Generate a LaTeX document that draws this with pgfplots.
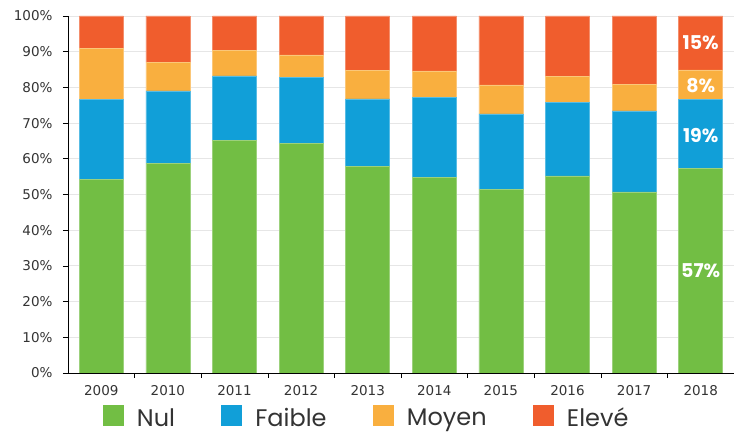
\documentclass[border=0pt]{standalone}
\usepackage{pgfplots}
\usepackage{pgfplotstable}
\pgfplotsset{compat=1.18}
\usepackage{fontspec}
\setmainfont{Poppins}
\newfontfamily\tickfont{DejaVu Sans}
\definecolor{cNul}{HTML}{72BE44}
\definecolor{cFaible}{HTML}{119FD8}
\definecolor{cMoyen}{HTML}{F9AF3F}
\definecolor{cEleve}{HTML}{F05D2D}
\definecolor{txt}{HTML}{333333}
\definecolor{grd}{HTML}{E6E6E6}
\pgfplotstableread{
x nul faible moyen eleve
0 54.3 22.4 14.3 9.0
1 58.7 20.3 8.1 12.9
2 65.1 18.1 7.1 9.7
3 64.3 18.4 6.4 10.9
4 57.9 18.9 8.0 15.2
5 54.8 22.4 7.4 15.4
6 51.5 21.1 8.1 19.3
7 55.2 20.5 7.4 16.9
8 50.7 22.7 7.5 19.1
9 57.3 19.4 8.2 15.1
}\datatable
\begin{document}
\begin{tikzpicture}
\begin{axis}[
  name=ax, at={(68pt,63pt)}, anchor=south west,
  width=666pt, height=357pt, scale only axis,
  ybar stacked, bar width=44pt,
  xmin=-0.5, xmax=9.5, ymin=0, ymax=100,
  axis lines*=left,
  axis line style={black, line width=0.8pt},
  xtick={0.5,1.5,...,8.5}, xticklabels={},
  extra x ticks={0,1,...,9},
  extra x tick labels={2009,2010,2011,2012,2013,2014,2015,2016,2017,2018},
  extra x tick style={major tick length=0pt, tick label style={yshift=-9pt}},
  ytick={0,10,...,100},
  yticklabel={\pgfmathprintnumber{\tick}\%},
  yticklabel style={xshift=-7pt},
  tick align=outside, major tick length=5pt,
  tick style={black, line width=0.6pt},
  ymajorgrids, grid style={grd, line width=0.8pt},
  tick label style={font=\tickfont\fontsize{13.5}{14}\selectfont, text=txt},
  /pgf/number format/assume math mode=true,
  legend columns=4,
  legend style={at={(0.4467,-0.122)}, anchor=center, draw=none, fill=none,
    font=\fontsize{24}{24}\selectfont, text=txt, column sep=0pt,
    /tikz/every even column/.append style={column sep=46pt},
    nodes={inner sep=0pt}},
  legend image code/.code={\fill[#1,draw=none] (0pt,-8pt) rectangle (21pt,13pt); \path (34pt,0pt);},
]
\addplot[fill=cNul, draw=cNul!70!white, line width=0.6pt] table[x=x,y=nul]{\datatable};
\addplot[fill=cFaible, draw=cFaible!70!white, line width=0.6pt] table[x=x,y=faible]{\datatable};
\addplot[fill=cMoyen, draw=cMoyen!70!white, line width=0.6pt] table[x=x,y=moyen]{\datatable};
\addplot[fill=cEleve, draw=cEleve!70!white, line width=0.6pt] table[x=x,y=eleve]{\datatable};
\legend{Nul,Faible,Moyen,Elevé}
\coordinate (l1) at (axis cs:9,28.65);
\coordinate (l2) at (axis cs:9,66.6);
\coordinate (l3) at (axis cs:9,80.4);
\coordinate (l4) at (axis cs:9,92.45);
\end{axis}
\begin{scope}[every node/.style={font=\bfseries\fontsize{19}{19}\selectfont, text=white}]
\node at (l1) {57\%};
\node at (l2) {19\%};
\node at (l3) {8\%};
\node at (l4) {15\%};
\end{scope}
\pgfresetboundingbox
\path (0pt,0pt) rectangle (734pt,436pt);
\end{tikzpicture}
\end{document}
